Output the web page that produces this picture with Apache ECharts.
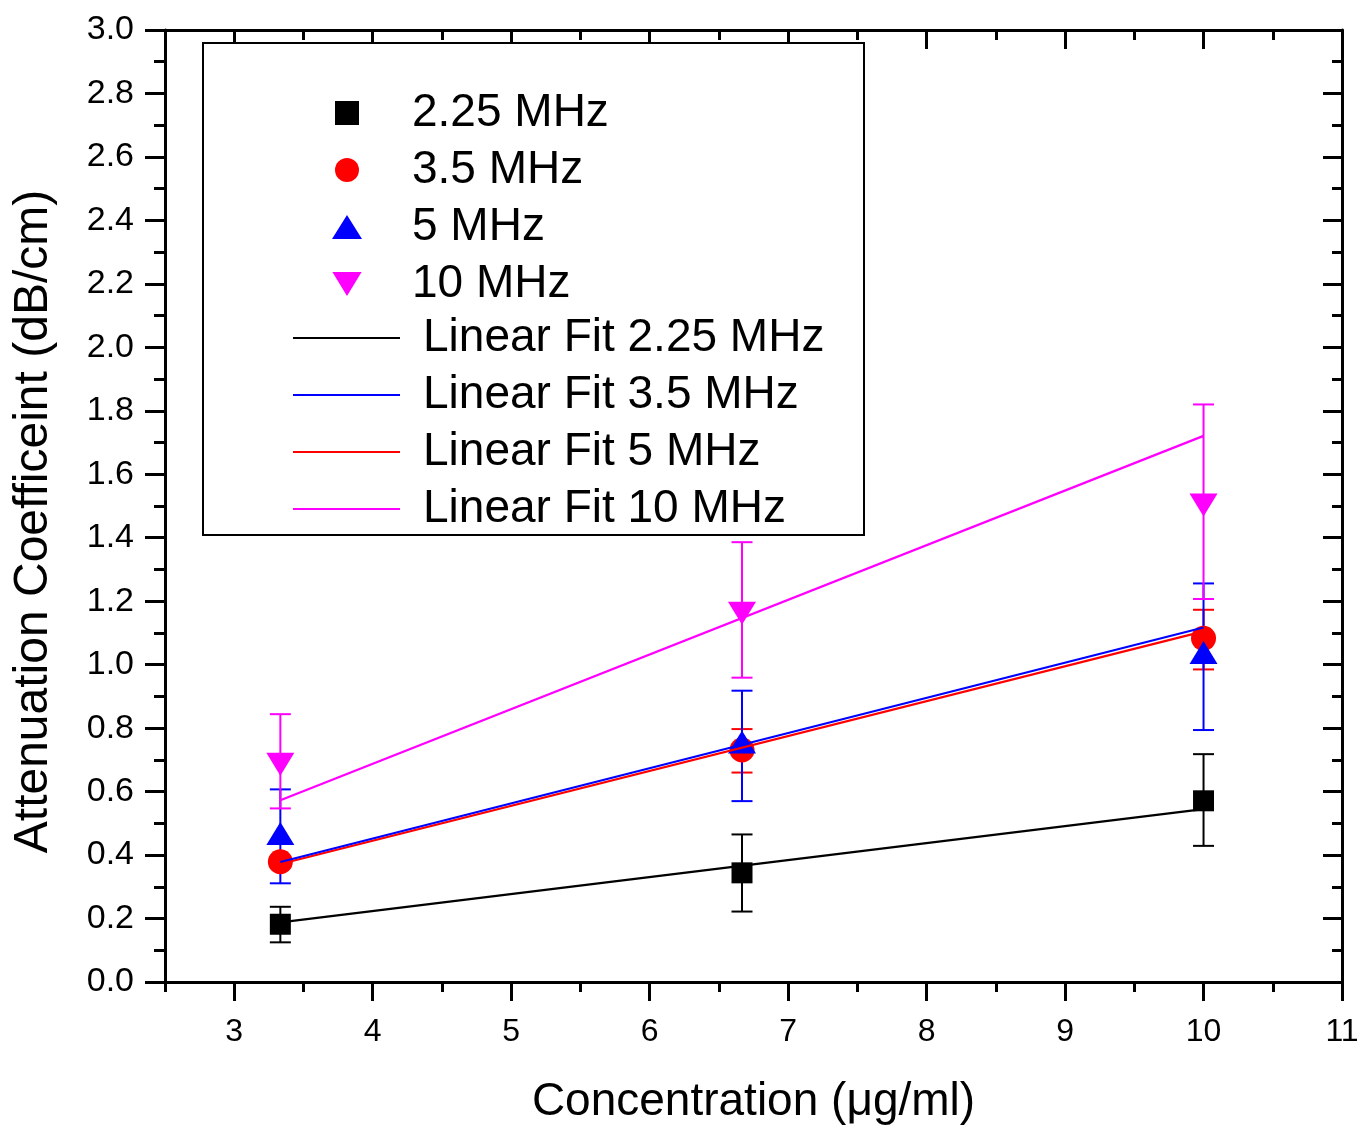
<!DOCTYPE html>
<html>
<head>
<meta charset="utf-8">
<script src="https://cdn.jsdelivr.net/npm/echarts@6/dist/echarts.min.js"></script>
<style>
html, body { margin: 0; background: #fff; }
#chart { width: 1361px; height: 1127px; }
</style>
</head>
<body>
<div id="chart"></div>
<script>
// concentration (ug/ml)
const concentration = [3.333, 6.667, 10];

// measured attenuation, with error bar ends
const mean225 = [0.182, 0.344, 0.571];
const low225 = [0.125, 0.222, 0.429];
const high225 = [0.237, 0.465, 0.718];

const mean35 = [0.379, 0.731, 1.083];
const low35 = [0.369, 0.660, 0.985];
const high35 = [0.389, 0.797, 1.173];

const mean5 = [0.468, 0.756, 1.038];
const low5 = [0.311, 0.570, 0.794];
const high5 = [0.607, 0.918, 1.256];

const mean10 = [0.686, 1.162, 1.503];
const low10 = [0.547, 0.959, 1.207];
const high10 = [0.844, 1.386, 1.820];

// linear fits, value at first and last concentration
const fitX = [3.333, 10];
const fit225 = [0.188, 0.545];
const fit35 = [0.378, 1.117];
const fit5 = [0.372, 1.105];
const fit10 = [0.573, 1.721];

const xMajorTicks = [3, 4, 5, 6, 7, 8, 9, 10, 11];
const xMinorTicks = [2.5, 3.5, 4.5, 5.5, 6.5, 7.5, 8.5, 9.5, 10.5];
const yTicks = [0, 0.2, 0.4, 0.6, 0.8, 1.0, 1.2, 1.4, 1.6, 1.8, 2.0, 2.2, 2.4, 2.6, 2.8, 3.0];

const FONT = '"Liberation Sans", Arial, sans-serif';
const black = '#000000';
const SQUARE = 'path://M0,0L10,0L10,10L0,10Z';
const DOWN_TRIANGLE = 'path://M0,0L28,0L14,23Z';

const pts = (ys) => concentration.map((x, i) => [x, ys[i]]);
const errs = (lo, hi) => concentration.map((x, i) => [x, lo[i], hi[i]]);
const fitPts = (ys) => fitX.map((x, i) => [x, ys[i]]);

function errorBar(name, color, data) {
    return {
        name: name,
        type: 'custom',
        data: data,
        encode: { x: 0, y: [1, 2] },
        renderItem: function (params, api) {
            const lo = api.coord([api.value(0), api.value(1)]);
            const hi = api.coord([api.value(0), api.value(2)]);
            const half = 10.5;
            const style = { stroke: color, lineWidth: 2 };
            return {
                type: 'group',
                children: [
                    { type: 'line', shape: { x1: lo[0], y1: lo[1], x2: hi[0], y2: hi[1] }, style: style },
                    { type: 'line', shape: { x1: hi[0] - half, y1: hi[1], x2: hi[0] + half, y2: hi[1] }, style: style },
                    { type: 'line', shape: { x1: lo[0] - half, y1: lo[1], x2: lo[0] + half, y2: lo[1] }, style: style }
                ]
            };
        },
        silent: true
    };
}

function markers(name, color, symbol, size, data) {
    return {
        name: name,
        type: 'scatter',
        data: data,
        symbol: symbol,
        symbolSize: size,
        itemStyle: { color: color, opacity: 1 }
    };
}

function fitLine(name, color, data) {
    return {
        name: name,
        type: 'line',
        data: data,
        symbol: 'none',
        lineStyle: { color: color, width: 2.2 },
        itemStyle: { color: color }
    };
}

const lineStyle = { color: black, width: 3 };

function xSide(position, ticks, length, inside, extra) {
    return Object.assign({
        type: 'value',
        position: position,
        min: 2.5,
        max: 11,
        interval: 0.5,
        axisLine: { show: true, onZero: false, lineStyle: lineStyle },
        axisTick: { show: true, customValues: ticks, length: length, inside: inside, lineStyle: lineStyle },
        axisLabel: { show: false },
        splitLine: { show: false }
    }, extra || {});
}

const chart = echarts.init(document.getElementById('chart'));

chart.setOption({
    backgroundColor: '#ffffff',
    animation: false,
    grid: { left: 165, right: 19, top: 30, bottom: 145, containLabel: false, outerBoundsMode: 'none' },
    xAxis: [
        xSide('bottom', xMajorTicks, 19, false, {
            axisLabel: {
                show: true, customValues: xMajorTicks, margin: 34,
                fontSize: 32, color: black, fontFamily: FONT
            },
            name: 'Concentration (μg/ml)',
            nameLocation: 'middle',
            nameGap: 97,
            nameTextStyle: { fontSize: 46, color: black, fontFamily: FONT }
        }),
        xSide('bottom', xMinorTicks, 10, false),
        xSide('top', xMajorTicks, 19, true),
        xSide('top', xMinorTicks, 10, true)
    ],
    yAxis: [
        {
            type: 'value', position: 'left', min: 0, max: 3, interval: 0.2,
            axisLine: { show: true, onZero: false, lineStyle: lineStyle },
            axisTick: { show: true, length: 20, lineStyle: lineStyle },
            minorTick: { show: true, splitNumber: 2, length: 11, lineStyle: lineStyle },
            axisLabel: {
                customValues: yTicks, margin: 31, fontSize: 34, color: black, fontFamily: FONT,
                formatter: (v) => v.toFixed(1)
            },
            splitLine: { show: false },
            name: 'Attenuation Coefficeint (dB/cm)',
            nameLocation: 'middle',
            nameGap: 107,
            nameTextStyle: { fontSize: 48, color: black, fontFamily: FONT, padding: [0, 31, 0, 0] }
        },
        {
            type: 'value', position: 'right', min: 0, max: 3, interval: 0.2,
            axisLine: { show: true, onZero: false, lineStyle: lineStyle },
            axisTick: { show: true, inside: true, length: 19, lineStyle: lineStyle },
            minorTick: { show: true, splitNumber: 2, length: 10, lineStyle: lineStyle },
            axisLabel: { show: false },
            splitLine: { show: false }
        }
    ],
    graphic: [
        {
            type: 'rect',
            z: 3,
            shape: { x: 203, y: 43, width: 661, height: 492 },
            style: { fill: '#ffffff', stroke: black, lineWidth: 2 }
        }
    ],
    legend: [
        {
            data: [
                { name: '2.25 MHz', icon: SQUARE },
                { name: '3.5 MHz', icon: 'circle' },
                { name: '5 MHz', icon: 'triangle' },
                { name: '10 MHz', icon: DOWN_TRIANGLE }
            ],
            orient: 'vertical',
            left: 332,
            top: 90,
            padding: 0,
            itemWidth: 30,
            itemHeight: 24,
            itemGap: 11,
            symbolKeepAspect: true,
            selectedMode: false,
            textStyle: { fontSize: 46, color: black, fontFamily: FONT, padding: [0, 0, 0, 45] },
            z: 5
        },
        {
            data: [
                { name: 'Linear Fit 2.25 MHz', icon: 'rect' },
                { name: 'Linear Fit 3.5 MHz', icon: 'rect' },
                { name: 'Linear Fit 5 MHz', icon: 'rect' },
                { name: 'Linear Fit 10 MHz', icon: 'rect' }
            ],
            orient: 'vertical',
            left: 293,
            top: 315,
            padding: 0,
            itemWidth: 107,
            itemHeight: 2,
            itemGap: 11,
            selectedMode: false,
            textStyle: { fontSize: 46, color: black, fontFamily: FONT, padding: [0, 0, 0, 18] },
            z: 5
        }
    ],
    series: [
        errorBar('err 2.25', '#000000', errs(low225, high225)),
        markers('2.25 MHz', '#000000', 'rect', 21, pts(mean225)),
        errorBar('err 3.5', '#ff0000', errs(low35, high35)),
        markers('3.5 MHz', '#ff0000', 'circle', 25, pts(mean35)),
        errorBar('err 5', '#0000ff', errs(low5, high5)),
        markers('5 MHz', '#0000ff', 'triangle', [28, 23], pts(mean5)),
        errorBar('err 10', '#ff00ff', errs(low10, high10)),
        markers('10 MHz', '#ff00ff', DOWN_TRIANGLE, [28, 23], pts(mean10)),
        fitLine('Linear Fit 2.25 MHz', '#000000', fitPts(fit225)),
        fitLine('Linear Fit 5 MHz', '#ff0000', fitPts(fit5)),
        fitLine('Linear Fit 3.5 MHz', '#0000ff', fitPts(fit35)),
        fitLine('Linear Fit 10 MHz', '#ff00ff', fitPts(fit10))
    ]
});
</script>
</body>
</html>
